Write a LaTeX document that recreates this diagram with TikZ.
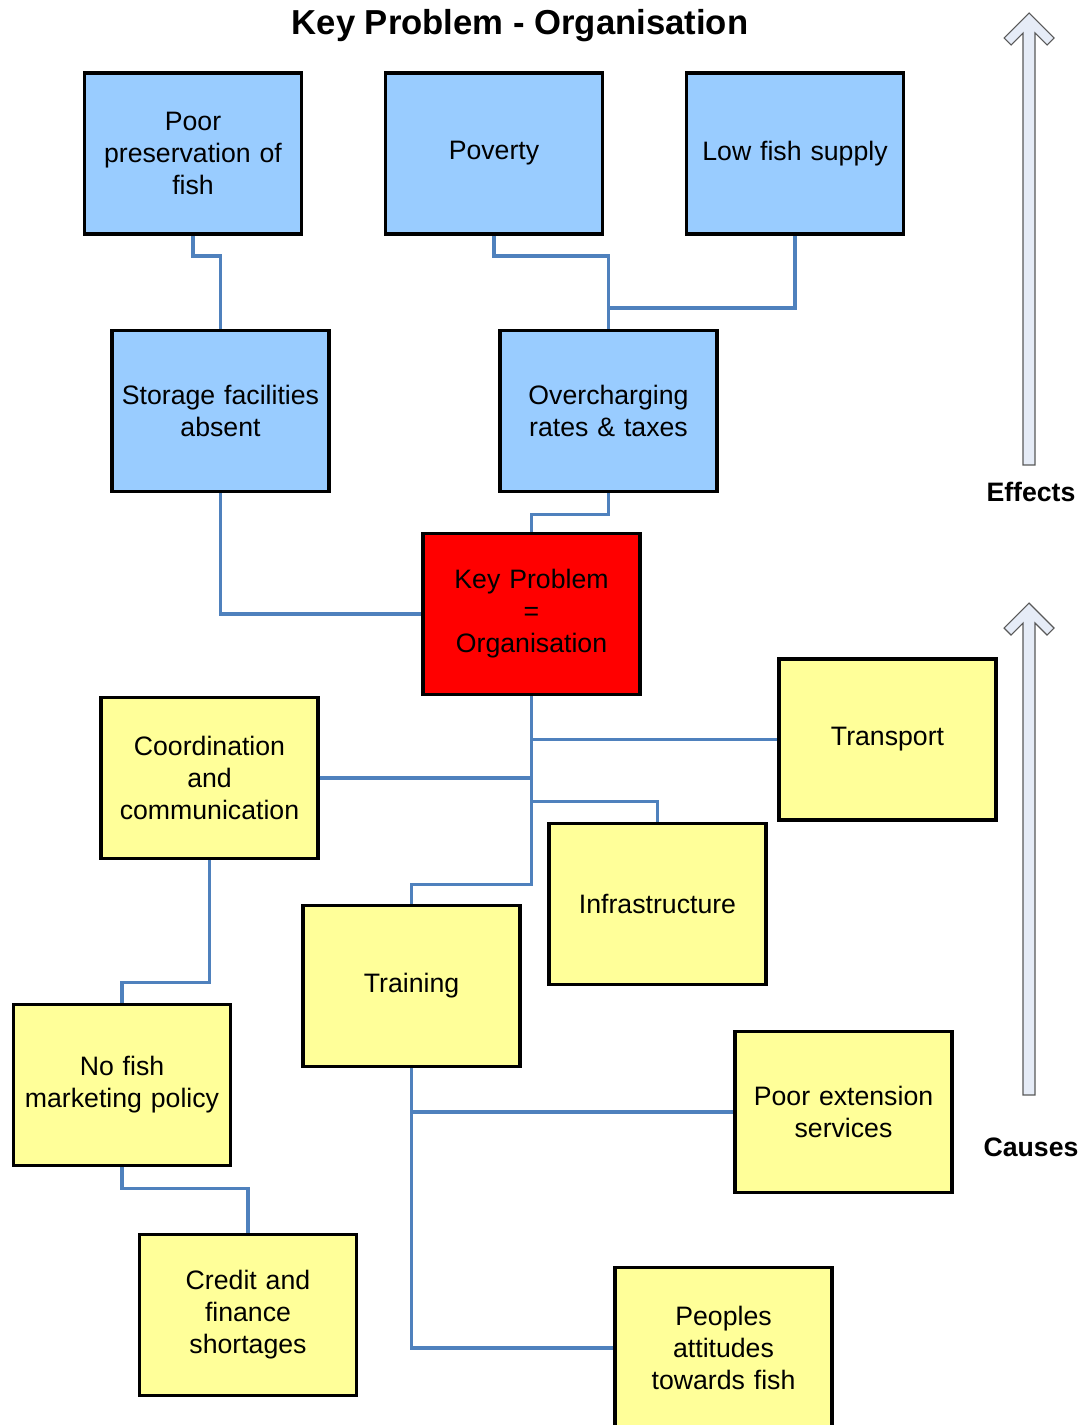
\documentclass[tikz,border=0pt]{standalone}
\usepackage{fontspec}
\setmainfont{Liberation Sans}
\usepackage{xcolor}
\usetikzlibrary{arrows.meta,positioning}

\definecolor{effblue}{HTML}{99CCFF}
\definecolor{causeyel}{HTML}{FFFF99}
\definecolor{keyred}{HTML}{FF0000}
\definecolor{linkblue}{HTML}{4F81BD}
\definecolor{arrowfill}{HTML}{E6ECF7}

\begin{document}
\begin{tikzpicture}[x=0.75pt,y=-0.75pt,
    box/.style={rectangle, draw, line width=2.6pt, minimum width=162.5pt, minimum height=121pt, text width=155pt, text centered, font=\fontsize{20}{24}\selectfont},
    effect/.style={box, fill=effblue},
    cause/.style={box, fill=causeyel},
    link/.style={draw=linkblue, line width=2.4pt},
    bigarrow/.style={draw=black!65, fill=arrowfill, line width=0.8pt}]
            \useasboundingbox (0,0) rectangle (1084,1425);

            \node (title) at (520,26) {\fontsize{26}{30}\selectfont\bfseries Key Problem - Organisation};

            % effects
            \node (pres) [effect] at (193,153.5) {Poor\\preservation of\\fish};
            \node (pov) [effect] at (494,153.5) {Poverty};
            \node (low) [effect] at (795,153.5) {Low fish supply};
            \node (store) [effect] at (220.5,411) {Storage facilities\\absent};
            \node (over) [effect] at (608.5,411) {Overcharging\\rates \& taxes};

            \node (key) [box, fill=keyred] at (531.5,614) {Key Problem\\=\\Organisation};

            % causes
            \node (coord) [cause] at (209.5,778) {Coordination\\and\\communication};
            \node (trans) [cause] at (887.5,739.5) {Transport};
            \node (infra) [cause] at (657.5,904) {Infrastructure};
            \node (train) [cause] at (411.5,986) {Training};
            \node (nofish) [cause] at (122,1085) {No fish\\marketing policy};
            \node (ext) [cause] at (843.5,1112) {Poor extension\\services};
            \node (credit) [cause] at (248,1315) {Credit and\\finance\\shortages};
            \node (people) [cause] at (723.5,1348) {Peoples\\attitudes\\towards fish};

            \draw [link] (pres.south) -- ++(0,20) -| (store.north);
            \draw [link] (pov.south) -- ++(0,20) -| (over.north);
            \draw [link] (low.south) -- ++(0,72) -| (over.north);
            \draw [link] (over.south) -- ++(0,21) -| (key.north);
            \draw [link] (store.south) |- (key.west);
            \draw [link] (key.south) |- (trans.west);
            \draw [link] (coord.east) -- (coord.east -| key.south);
            \draw [link] (infra.north) -- ++(0,-20) -| (key.south);
            \draw [link] (key.south) -- ++(0,188) -| (train.north);
            \draw [link] (nofish.north) -- ++(0,-20) -| (coord.south);
            \draw [link] (nofish.south) -- ++(0,21) -| (credit.north);
            \draw [link] (train.south) |- (ext.west);
            \draw [link] (train.south) |- (people.west);

            % side arrows
            \foreach \tipy/\len in {13/452, 603/492}
                \draw [bigarrow] (1029,\tipy) -- ++(25,25) -- ++(-7,7) -- ++(-12,-12) -- ++(0,\len-20) -- ++(-12,0) -- ++(0,-\len+20) -- ++(-12,12) -- ++(-7,-7) -- cycle;
            \node (eff) at (1031,492) {\fontsize{20}{24}\selectfont\bfseries Effects};
            \node (cau) at (1031,1147) {\fontsize{20}{24}\selectfont\bfseries Causes};
        \end{tikzpicture}
\end{document}
